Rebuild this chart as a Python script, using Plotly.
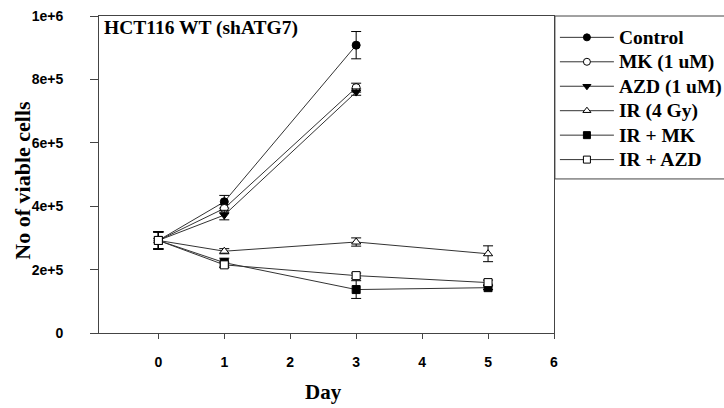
import plotly.graph_objects as go

# Viable cell counts for HCT116 WT (shATG7) over time
days_short = [0, 1, 3]
days_long = [0, 1, 3, 5]

control = [292000, 414000, 908000]
control_err = [27000, 20000, 43000]

mk = [292000, 393000, 774000]
mk_err = [27000, 12000, 14000]

azd = [292000, 372000, 760000]
azd_err = [27000, 15000, 10000]

ir = [292000, 258000, 287000, 250000]
ir_err = [27000, 8000, 13000, 25000]

ir_mk = [292000, 222000, 137000, 143000]
ir_mk_err = [27000, 14000, 28000, 6000]

ir_azd = [292000, 215000, 181000, 159000]
ir_azd_err = [27000, 8000, 8000, 8000]

y_ticks = [0, 200000, 400000, 600000, 800000, 1000000]
y_tick_text = ["0", "2e+5", "4e+5", "6e+5", "8e+5", "1e+6"]
x_ticks = [0, 1, 2, 3, 4, 5, 6]

series = [
    ("Control", days_short, control, control_err, "circle", "black"),
    ("MK (1 uM)", days_short, mk, mk_err, "circle", "white"),
    ("AZD (1 uM)", days_short, azd, azd_err, "triangle-down", "black"),
    ("IR (4 Gy)", days_long, ir, ir_err, "triangle-up", "white"),
    ("IR + MK", days_long, ir_mk, ir_mk_err, "square", "black"),
    ("IR + AZD", days_long, ir_azd, ir_azd_err, "square", "white"),
]

serif = "Times New Roman"
sans = "Arial"

fig = go.Figure()
for name, xs, ys, errs, sym, fill in series:
    # data with error bars
    fig.add_trace(go.Scatter(
        x=xs, y=ys, name=name, mode="lines+markers", showlegend=False,
        line=dict(color="#333333", width=1),
        marker=dict(symbol=sym, size=8, color=fill,
                    line=dict(color="black", width=1)),
        error_y=dict(type="data", array=errs, visible=True,
                     color="black", thickness=1, width=5),
    ))
for name, xs, ys, errs, sym, fill in series:
    # legend key (line + marker only); larger text on a tighter row pitch
    fig.add_trace(go.Scatter(
        x=[None], y=[None], mode="lines+markers",
        name=f'<span style="font-size:19.5px">{name}</span>',
        line=dict(color="#333333", width=1),
        marker=dict(symbol=sym, size=7, color=fill,
                    line=dict(color="black", width=1)),
    ))

fig.update_layout(
    width=724, height=408,
    margin=dict(l=99, r=170, t=16, b=75, autoexpand=False),
    paper_bgcolor="white", plot_bgcolor="white",
    font=dict(family=serif),
    showlegend=True,
    legend=dict(
        x=1.002, y=0.987, xanchor="left", yanchor="top",
        bgcolor="rgba(0,0,0,0)", borderwidth=0,
        font=dict(family=serif, size=16.5, color="black", weight="bold"),
        tracegroupgap=0, itemwidth=54,
    ),
    xaxis=dict(
        range=[-0.9, 6], tickvals=x_ticks, showgrid=False, zeroline=False,
        showline=True, linecolor="#444444", linewidth=1, mirror=True,
        ticks="outside", ticklen=5, tickcolor="#444444",
        ticklabelstandoff=11, automargin=False,
        tickfont=dict(family=sans, size=14, color="black", weight="bold"),
    ),
    yaxis=dict(
        range=[0, 1000000], tickvals=y_ticks, ticktext=y_tick_text,
        showgrid=False, zeroline=False,
        showline=True, linecolor="#444444", linewidth=1, mirror=True,
        ticks="outside", ticklen=8, tickcolor="#444444",
        ticklabelstandoff=24, automargin=False,
        tickfont=dict(family=sans, size=14, color="black", weight="bold"),
    ),
    shapes=[dict(
        type="rect", xref="paper", yref="paper",
        x0=1.002, x1=1.40, y0=0.486, y1=1.0,
        line=dict(color="#444444", width=1), fillcolor="rgba(0,0,0,0)",
    )],
    annotations=[
        dict(text="<b>HCT116 WT (shATG7)</b>", xref="paper", yref="paper",
             x=0.006, y=0.961, xanchor="left", yanchor="middle",
             showarrow=False, font=dict(family=serif, size=19.5, color="black")),
        dict(text="<b>Day</b>", xref="paper", yref="paper",
             x=0.4945, y=-0.186, xanchor="center", yanchor="middle",
             showarrow=False, font=dict(family=serif, size=21, color="black")),
        dict(text="<b>No of viable cells</b>", xref="paper", yref="paper",
             x=-0.170, y=0.4826, xanchor="center", yanchor="middle",
             textangle=-90, showarrow=False,
             font=dict(family=serif, size=22, color="black")),
    ],
)

fig.write_html("out.html")
